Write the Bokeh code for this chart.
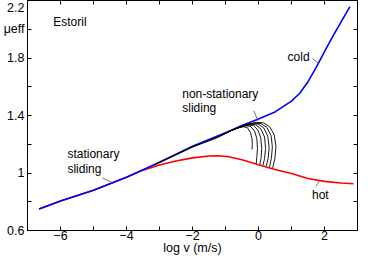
from bokeh.plotting import figure
from bokeh.models import (FixedTicker, LinearAxis, Label, Range1d, NumeralTickFormatter,
                          CustomJSTickFormatter)
from bokeh.embed import file_html
from bokeh.resources import INLINE

# ---- data (log v in m/s, mu_eff) ----
cold_x = [-6.65, -6, -5, -4, -3, -2, -1, -0.5, 0, 0.5, 1, 1.25, 1.5, 1.75, 2, 2.25, 2.5, 2.77]
cold_y = [0.75, 0.805, 0.88, 0.97, 1.075, 1.186, 1.28, 1.33, 1.375, 1.425, 1.50, 1.555, 1.635, 1.735, 1.845, 1.95, 2.05, 2.157]

hot_x = [-6.65, -6, -5, -4, -3.5, -3, -2.5, -2, -1.5, -1.2, -0.9, -0.5, 0, 0.5, 1, 1.5, 2, 2.5, 2.88]
hot_y = [0.75, 0.805, 0.88, 0.97, 1.02, 1.055, 1.083, 1.105, 1.118, 1.12, 1.113, 1.092, 1.058, 1.025, 0.997, 0.962, 0.942, 0.93, 0.925]

stat_x = [-3.15, -2.5, -2.0, -1.7, -1.3, -0.9]
stat_y = [1.058, 1.127, 1.182, 1.207, 1.243, 1.286]

ns1_x = [-0.90, -0.658, -0.462, -0.335, -0.246, -0.197, -0.188, -0.197]
ns1_y = [1.288, 1.311, 1.322, 1.315, 1.283, 1.239, 1.200, 1.164]
ns2_x = [-0.90, -0.609, -0.393, -0.237, -0.119, -0.050, -0.031, -0.050, -0.070]
ns2_y = [1.288, 1.315, 1.329, 1.324, 1.292, 1.239, 1.170, 1.113, 1.065]
ns3_x = [-0.90, -0.560, -0.315, -0.158, -0.021, 0.067, 0.097, 0.077, 0.038]
ns3_y = [1.288, 1.320, 1.334, 1.331, 1.301, 1.246, 1.170, 1.102, 1.058]
ns4_x = [-0.90, -0.511, -0.246, -0.080, 0.077, 0.185, 0.214, 0.185, 0.136]
ns4_y = [1.288, 1.324, 1.338, 1.335, 1.305, 1.250, 1.170, 1.102, 1.054]
ns5_x = [-0.90, -0.462, -0.188, -0.001, 0.165, 0.283, 0.322, 0.293, 0.234]
ns5_y = [1.288, 1.329, 1.343, 1.340, 1.312, 1.255, 1.177, 1.102, 1.047]
ns6_x = [-0.90, -0.413, -0.129, 0.077, 0.253, 0.381, 0.420, 0.391, 0.332]
ns6_y = [1.288, 1.334, 1.347, 1.344, 1.317, 1.260, 1.182, 1.102, 1.042]
ns7_x = [-0.90, -0.364, -0.070, 0.155, 0.342, 0.479, 0.528, 0.498, 0.430]
ns7_y = [1.288, 1.338, 1.352, 1.349, 1.321, 1.264, 1.186, 1.102, 1.035]

x_major = [-6, -4, -2, 0, 2]
x_minor = [-7, -5, -3, -1, 1, 3]
y_major = [0.6, 1.0, 1.4, 1.8, 2.0, 2.2]
y_minor = [0.8, 1.2, 1.6]
y_label_text = "\u03bceff"

FONT = "Liberation Sans"

p = figure(width=358, height=257, output_backend="svg", toolbar_location=None,
           x_range=Range1d(-7, 3), y_range=Range1d(0.6, 2.2),
           min_border_left=24, min_border_right=1, min_border_top=0, min_border_bottom=0,
           x_axis_label="log v (m/s)")
p.grid.visible = False
p.outline_line_color = "black"
p.background_fill_color = "white"
p.border_fill_color = "white"

def style_axis(ax, ticks, minor, labels=True):
    ax.ticker = FixedTicker(ticks=ticks, minor_ticks=minor)
    ax.major_tick_in = 4
    ax.major_tick_out = 0
    ax.minor_tick_in = 4
    ax.minor_tick_out = 0
    ax.axis_line_color = "black"
    ax.major_tick_line_color = "black"
    ax.minor_tick_line_color = "black"
    ax.major_label_text_font = FONT
    ax.major_label_text_font_size = "12.5px"
    ax.major_label_text_color = "black"
    ax.major_label_standoff = 0
    ax.axis_label_text_font = FONT
    ax.axis_label_text_font_size = "12.5px"
    ax.axis_label_text_font_style = "normal"
    ax.axis_label_text_color = "black"
    ax.axis_label_standoff = -2
    if not labels:
        ax.formatter = CustomJSTickFormatter(code="return ''")

style_axis(p.xaxis[0], x_major, x_minor)
style_axis(p.yaxis[0], y_major, y_minor)
p.yaxis[0].major_label_standoff = 3
p.yaxis[0].formatter = NumeralTickFormatter(format="0.[0]")
p.yaxis[0].major_label_overrides = {2.0: y_label_text}

top = LinearAxis()
style_axis(top, x_major, x_minor, labels=False)
p.add_layout(top, "above")
right = LinearAxis()
style_axis(right, y_major + y_minor, [], labels=False)
p.add_layout(right, "right")

# curves
p.line(hot_x, hot_y, line_color="#ff0000", line_width=1.6)
p.line(cold_x, cold_y, line_color="#0000ff", line_width=1.6)
p.line(stat_x, stat_y, line_color="black", line_width=1.3)
for xs, ys in [(ns1_x, ns1_y), (ns2_x, ns2_y), (ns3_x, ns3_y), (ns4_x, ns4_y),
               (ns5_x, ns5_y), (ns6_x, ns6_y), (ns7_x, ns7_y)]:
    p.line(xs, ys, line_color="black", line_width=0.9)

# annotations
def lab(x, y, text, size="12px", align="left"):
    p.add_layout(Label(x=x, y=y, text=text, text_font=FONT, text_font_size=size,
                       text_baseline="middle", text_align=align, text_color="black"))

lab(-6.22, 2.048, "Estoril")
lab(0.88, 1.808, "cold")
lab(1.62, 0.844, "hot")
lab(-5.79, 1.129, "stationary")
lab(-5.79, 1.027, "sliding")
lab(-2.31, 1.551, "non-stationary")
lab(-2.31, 1.451, "sliding")

p.segment(x0=[1.63], y0=[1.796], x1=[1.83], y1=[1.762], line_color="#555555", line_width=0.8)
p.segment(x0=[1.735], y0=[0.906], x1=[1.85], y1=[0.945], line_color="#555555", line_width=0.8)
p.segment(x0=[-4.73], y0=[0.965], x1=[-4.42], y1=[0.932], line_color="#555555", line_width=0.8)
p.segment(x0=[-0.14], y0=[1.434], x1=[-0.02], y1=[1.362], line_color="#555555", line_width=0.8)

open("out.html", "w").write(file_html(p, INLINE))
